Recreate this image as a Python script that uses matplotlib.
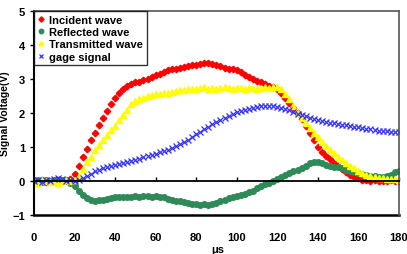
import numpy as np
import matplotlib
matplotlib.use("Agg")
import matplotlib.pyplot as plt

plt.rcParams['font.family'] = ['Liberation Sans', 'DejaVu Sans']
plt.rcParams['font.weight'] = 'bold'

# time axis, sampled every 2 us
t = np.arange(0, 181, 2)

incident = [0.02, 0.0, 0.03, -0.02, 0.01, 0.0, 0.02, -0.01, 0.02,
            0.05, 0.2, 0.45, 0.7, 0.95, 1.2, 1.4, 1.65, 1.85, 2.05,
            2.25, 2.45, 2.6, 2.7, 2.78, 2.85, 2.9, 2.92, 2.98, 3.0,
            3.05, 3.12, 3.15, 3.2, 3.25, 3.28, 3.3, 3.32, 3.35, 3.38,
            3.4, 3.42, 3.45, 3.47, 3.46, 3.45, 3.42, 3.38, 3.33, 3.3,
            3.28, 3.25, 3.2, 3.12, 3.05, 3.0, 2.95, 2.9, 2.85, 2.8,
            2.77, 2.72, 2.6, 2.45, 2.3, 2.15, 2.0, 1.82, 1.62, 1.42,
            1.2, 1.0, 0.86, 0.74, 0.64, 0.54, 0.44, 0.34, 0.26, 0.19,
            0.13, 0.08, 0.04, 0.02, 0.01, 0.02, 0.0, 0.01, 0.0, 0.02,
            0.01, 0.0]

reflected = [0.0, 0.02, -0.02, 0.03, 0.0, 0.02, -0.01, 0.02, 0.0,
             -0.05, -0.15, -0.28, -0.4, -0.5, -0.55, -0.58, -0.57, -0.55, -0.52,
             -0.5, -0.48, -0.47, -0.47, -0.48, -0.46, -0.45, -0.46, -0.45, -0.44,
             -0.46, -0.45, -0.47, -0.48, -0.52, -0.56, -0.58, -0.6, -0.62, -0.65,
             -0.67, -0.68, -0.7, -0.69, -0.7, -0.68, -0.66, -0.6, -0.55, -0.5,
             -0.47, -0.43, -0.4, -0.37, -0.33, -0.28, -0.22, -0.16, -0.1, -0.05,
             0.0, 0.05, 0.12, 0.18, 0.23, 0.28, 0.33, 0.38, 0.45, 0.52,
             0.55, 0.55, 0.52, 0.48, 0.45, 0.42, 0.4, 0.37, 0.33, 0.3,
             0.27, 0.24, 0.2, 0.18, 0.16, 0.14, 0.12, 0.12, 0.14, 0.18,
             0.25, 0.3]

transmitted = [0.0, -0.05, 0.02, 0.0, -0.03, 0.01, -0.05, 0.0, 0.02, 0.0, 0.03,
               0.15, 0.35, 0.55, 0.72, 0.9, 1.05, 1.2, 1.35, 1.5,
               1.62, 1.8, 1.95, 2.1, 2.25, 2.35, 2.42, 2.45, 2.5, 2.52,
               2.55, 2.57, 2.6, 2.6, 2.63, 2.65, 2.67, 2.68, 2.7, 2.7,
               2.72, 2.73, 2.75, 2.72, 2.74, 2.72, 2.73, 2.75, 2.73, 2.72,
               2.74, 2.73, 2.72, 2.74, 2.73, 2.72, 2.74, 2.75, 2.73, 2.75,
               2.76, 2.7, 2.55, 2.4, 2.2, 2.0, 1.85, 1.7, 1.55, 1.42,
               1.28, 1.15, 1.02, 0.92, 0.82, 0.72, 0.62, 0.53, 0.45, 0.38,
               0.3, 0.24, 0.19, 0.15, 0.12, 0.1, 0.08, 0.06, 0.05, 0.05,
               0.04]

gage = [0.0, 0.02, -0.02, 0.03, 0.0, 0.05, 0.1, 0.05, 0.0, 0.02, 0.0,
        0.03, 0.08, 0.15, 0.22, 0.28, 0.33, 0.37, 0.4, 0.43,
        0.46, 0.5, 0.53, 0.57, 0.6, 0.63, 0.66, 0.7, 0.73, 0.77,
        0.8, 0.84, 0.88, 0.92, 0.97, 1.02, 1.08, 1.15, 1.22, 1.3,
        1.38, 1.45, 1.52, 1.6, 1.67, 1.74, 1.8, 1.86, 1.92, 1.97,
        2.02, 2.06, 2.1, 2.13, 2.16, 2.18, 2.2, 2.2, 2.21, 2.2,
        2.18, 2.15, 2.12, 2.08, 2.03, 1.98, 1.94, 1.9, 1.86, 1.82,
        1.79, 1.76, 1.74, 1.72, 1.7, 1.68, 1.66, 1.64, 1.62, 1.6,
        1.58, 1.56, 1.54, 1.52, 1.5, 1.48, 1.47, 1.46, 1.45, 1.44,
        1.43]

labels = ['Incident wave', 'Reflected wave', 'Transmitted wave', 'gage signal']
xticks = [0, 20, 40, 60, 80, 100, 120, 140, 160, 180]
yticks = [-1, 0, 1, 2, 3, 4, 5]

fig = plt.figure(figsize=(4.07, 2.55), dpi=100)
ax = fig.add_axes([0.0835, 0.153, 0.8965, 0.8])

ax.plot(t, incident, ls='none', marker='D', ms=3.3, color='#ff0000', label=labels[0])
ax.plot(t, reflected, ls='none', marker='o', ms=4.0, color='#2e8b57', label=labels[1])
ax.plot(t, transmitted, ls='none', marker='^', ms=4.0, color='#ffff00', label=labels[2])
ax.plot(t, gage, ls='none', marker='x', ms=3.8, mew=0.9, color='#3333ff', label=labels[3])

ax.set_xlim(0, 180)
ax.set_ylim(-1, 5)
ax.set_yticks(yticks)
ax.set_xticks(xticks)

# x axis crosses at zero, frame still closes at -1
ax.spines['bottom'].set_position(('data', 0))
ax.spines['bottom'].set_linewidth(1.3)
ax.axhline(-1, color='black', lw=1.8, clip_on=False)
ax.spines['left'].set_linewidth(1.5)
for s in ['top', 'right']:
    ax.spines[s].set_color('#555555')
    ax.spines[s].set_linewidth(1.2)

ax.tick_params(axis='x', direction='in', length=3, width=1, pad=37, labelsize=8)
ax.tick_params(axis='y', direction='out', length=3, width=1, labelsize=8)
for lab in ax.get_xticklabels() + ax.get_yticklabels():
    lab.set_fontweight('bold')

ax.set_ylabel('Signal Voltage(V)', fontsize=7.5, fontweight='bold', labelpad=2)
fig.text(0.535, 0.0, 'μs', ha='center', va='bottom', fontsize=8, fontweight='bold')

leg = ax.legend(loc='upper left', bbox_to_anchor=(0.0, 1.0), fontsize=8, frameon=True,
                fancybox=False, edgecolor='black', handlelength=0.6, handletextpad=0.4,
                borderpad=0.35, labelspacing=0.2, borderaxespad=0.0, markerscale=0.8)
leg.get_frame().set_linewidth(1.0)
for txt in leg.get_texts():
    txt.set_fontweight('bold')

fig.savefig('out.png', dpi=100)
